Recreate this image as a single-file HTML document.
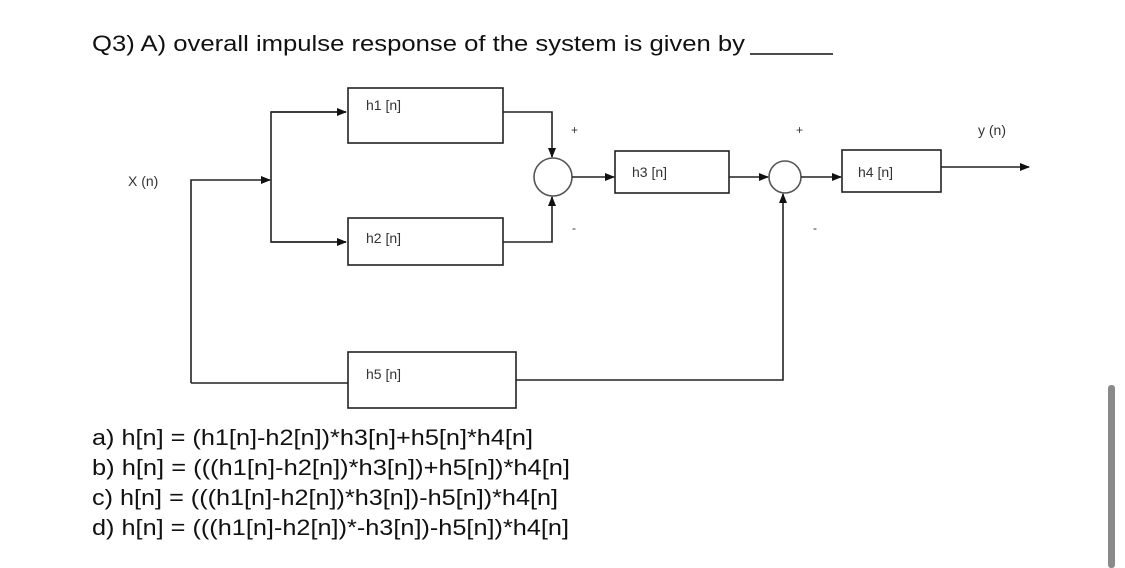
<!DOCTYPE html>
<html><head><meta charset="utf-8"><style>
html,body{margin:0;padding:0;background:#fff;}
svg{display:block;}
</style></head><body>
<svg width="1125" height="568" viewBox="0 0 1125 568" xmlns="http://www.w3.org/2000/svg" font-family="Liberation Sans, sans-serif">
<defs>
<marker id="a" markerWidth="10" markerHeight="8" refX="9" refY="4" orient="auto" markerUnits="userSpaceOnUse">
<path d="M0,0 L10,4 L0,8 z" fill="#111"/></marker>
</defs>
<text x="92" y="51" font-size="22" fill="#111" textLength="653" lengthAdjust="spacingAndGlyphs">Q3)    A) overall impulse response of the system is given by</text>
<line x1="750" y1="54" x2="833" y2="54" stroke="#111" stroke-width="1.5"/>
<g stroke="#222" stroke-width="1.6" fill="none">
<rect x="348" y="88" width="155" height="55"/>
<rect x="348" y="218" width="155" height="47"/>
<rect x="348" y="352" width="168" height="56"/>
<rect x="615" y="151" width="114" height="42"/>
<rect x="842" y="150" width="99" height="42"/>
<circle cx="553" cy="177" r="19" stroke="#555"/>
<circle cx="785" cy="177" r="16" stroke="#555"/>
<polyline points="191,383 191,180 270,180" marker-end="url(#a)"/>
<polyline points="346,112 271,112 271,242 346,242" />
<line x1="271" y1="112" x2="346" y2="112" marker-end="url(#a)"/>
<line x1="271" y1="242" x2="346" y2="242" marker-end="url(#a)"/>
<polyline points="503,112 552,112 552,157" marker-end="url(#a)"/>
<polyline points="503,242 552,242 552,197" marker-end="url(#a)"/>
<line x1="572" y1="177" x2="614" y2="177" marker-end="url(#a)"/>
<line x1="729" y1="177" x2="768" y2="177" marker-end="url(#a)"/>
<line x1="801" y1="177" x2="841" y2="177" marker-end="url(#a)"/>
<line x1="941" y1="167" x2="1029" y2="167" marker-end="url(#a)"/>
<line x1="191" y1="383" x2="348" y2="383"/>
<polyline points="516,380 783,380 783,194" marker-end="url(#a)"/>
</g>
<g font-size="14" fill="#333">
<text x="128" y="186">X (n)</text>
<text x="366" y="110">h1 [n]</text>
<text x="366" y="243">h2 [n]</text>
<text x="366" y="379">h5 [n]</text>
<text x="632" y="177">h3 [n]</text>
<text x="858" y="177">h4 [n]</text>
<text x="978" y="135">y (n)</text>
<text x="571" y="134" font-size="12">+</text>
<text x="796" y="134" font-size="12">+</text>
<text x="572" y="232" font-size="12">-</text>
<text x="813" y="232" font-size="12">-</text>
</g>
<g font-size="22" fill="#111">
<text x="92" y="445" textLength="441" lengthAdjust="spacingAndGlyphs">a) h[n] = (h1[n]-h2[n])*h3[n]+h5[n]*h4[n]</text>
<text x="92" y="475" textLength="478" lengthAdjust="spacingAndGlyphs">b) h[n] = (((h1[n]-h2[n])*h3[n])+h5[n])*h4[n]</text>
<text x="92" y="505" textLength="466" lengthAdjust="spacingAndGlyphs">c) h[n] = (((h1[n]-h2[n])*h3[n])-h5[n])*h4[n]</text>
<text x="92" y="535" textLength="477" lengthAdjust="spacingAndGlyphs">d) h[n] = (((h1[n]-h2[n])*-h3[n])-h5[n])*h4[n]</text>
</g>
<rect x="1108" y="385" width="7" height="183" rx="3" fill="#8a8a8a"/>
</svg>
</body></html>
